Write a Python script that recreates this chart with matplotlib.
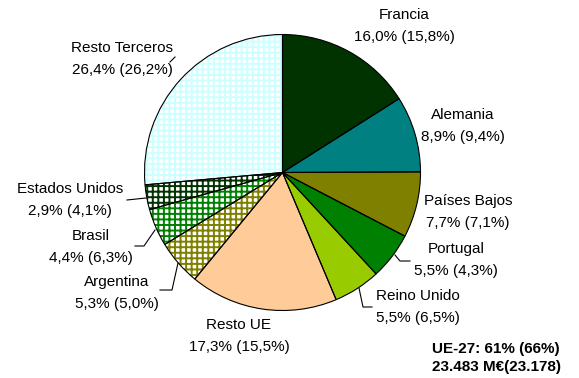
import matplotlib
matplotlib.use("Agg")
import matplotlib.pyplot as plt

plt.rcParams['font.family'] = ['Liberation Sans', 'DejaVu Sans']
plt.rcParams['hatch.linewidth'] = 1.4

# Export shares by destination (current year, previous year in brackets)
countries = ["Francia", "Alemania", "Países Bajos", "Portugal", "Reino Unido",
             "Resto UE", "Argentina", "Brasil", "Estados Unidos", "Resto Terceros"]
share = [16.0, 8.9, 7.7, 5.5, 5.5, 17.3, 5.3, 4.4, 2.9, 26.4]
share_prev = [15.8, 9.4, 7.1, 4.3, 6.5, 15.5, 5.0, 6.3, 4.1, 26.2]
summary_lines = ["UE-27: 61% (66%)", "23.483 M€(23.178)"]

# Fill style per slice: solid colour, or white with a coloured grid
face = ["#003300", "#008080", "#808000", "#008000", "#99CC00",
        "#FFCC99", "white", "white", "white", "white"]
grid = [None, None, None, None, None, None,
        "#808000", "#008000", "#003300", "#CCFFFF"]

W, H = 579, 378
fig = plt.figure(figsize=(W / 100, H / 100), dpi=100)
fig.patch.set_facecolor("white")
ax = fig.add_axes([0, 0, 1, 1])

cx, cy, R = 282.5, H - 172.5, 138

# Fill layer (grid hatch takes its colour from the edge colour)
wedges, _ = ax.pie(share, colors=face, startangle=90, counterclock=False,
                   center=(cx, cy), radius=R,
                   wedgeprops=dict(linewidth=0))
for w, g in zip(wedges, grid):
    if g is not None:
        w.set_edgecolor(g)
        w.set_hatch("+++")

# Outline layer
ax.pie(share, colors=["none"] * len(share), startangle=90, counterclock=False,
       center=(cx, cy), radius=R,
       wedgeprops=dict(linewidth=0.8, edgecolor="black", fill=False))

ax.set_xlim(0, W)
ax.set_ylim(0, H)
ax.set_aspect("auto")
ax.axis("off")

# Label anchor points (pixel coordinates from the top-left)
label_pos = [(404, 26), (463, 126), (468, 212), (456, 260), (418, 307),
             (239, 336), (117, 293), (91, 247), (70, 200), (122, 59)]
for name, v, pv, (lx, ly) in zip(countries, share, share_prev, label_pos):
    txt = f"{name}\n{v:.1f}% ({pv:.1f}%)".replace(".", ",")
    ax.text(lx, H - ly, txt, ha="center", va="center", fontsize=11,
            linespacing=1.7, color="black")

# Leader lines for the small slices
leaders = [
    [(127, 200), (146, 198)],
    [(135, 246), (144, 246), (155, 230)],
    [(160, 290), (172, 290), (178, 263)],
    [(410, 261), (400, 261), (395, 255)],
    [(372, 307), (363, 307), (359, 288)],
    [(170, 62), (175, 57)],
]
for pts in leaders:
    xs = [p[0] for p in pts]
    ys = [H - p[1] for p in pts]
    ax.plot(xs, ys, color="black", linewidth=0.8)

ax.text(432, H - 358, "\n".join(summary_lines), ha="left", va="center",
        fontsize=11, fontweight="bold", linespacing=1.4)

fig.savefig("out.png", dpi=100, facecolor="white")
